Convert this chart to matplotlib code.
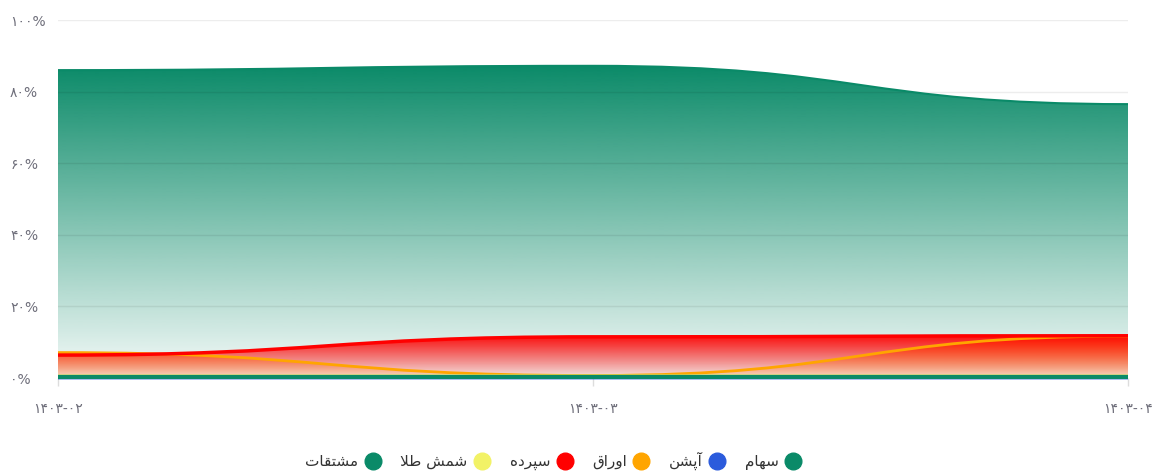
import numpy as np
import matplotlib
matplotlib.use("Agg")
import matplotlib.pyplot as plt
from matplotlib.path import Path
from matplotlib.patches import PathPatch
from matplotlib.lines import Line2D
from matplotlib.colors import to_rgb

plt.rcParams['font.family'] = ['DejaVu Sans']

# ---- data ----
periods = ['۱۴۰۳-۰۲', '۱۴۰۳-۰۳', '۱۴۰۳-۰۴']
saham = [86.0, 87.2, 76.5]      # سهام
option = [0.0, 0.0, 0.0]        # آپشن
oragh = [7.1, 0.7, 11.7]        # اوراق
sepordeh = [6.4, 11.5, 11.8]    # سپرده
gold = [0.6, 0.6, 0.6]          # شمش طلا
moshtaghat = [0.3, 0.3, 0.3]    # مشتقات

names = ['سهام', 'آپشن', 'اوراق', 'سپرده', 'شمش طلا', 'مشتقات']
colors = ['#0a8a68', '#2b5bdc', '#ffa500', '#ff0000', '#f2f266', '#0a8a68']
ytick_vals = [0, 20, 40, 60, 80, 100]

# ---- simple arabic shaping (matplotlib has no RTL/joining support) ----
FORMS = {
    'ا': ('\uFE8D', '\uFE8E'), 'آ': ('\uFE81', '\uFE82'),
    'د': ('\uFEA9', '\uFEAA'), 'ر': ('\uFEAD', '\uFEAE'),
    'و': ('\uFEED', '\uFEEE'),
    'س': ('\uFEB1', '\uFEB2', '\uFEB3', '\uFEB4'),
    'ش': ('\uFEB5', '\uFEB6', '\uFEB7', '\uFEB8'),
    'ه': ('\uFEE9', '\uFEEA', '\uFEEB', '\uFEEC'),
    'م': ('\uFEE1', '\uFEE2', '\uFEE3', '\uFEE4'),
    'ن': ('\uFEE5', '\uFEE6', '\uFEE7', '\uFEE8'),
    'پ': ('\uFB56', '\uFB57', '\uFB58', '\uFB59'),
    'ق': ('\uFED5', '\uFED6', '\uFED7', '\uFED8'),
    'ط': ('\uFEC1', '\uFEC2', '\uFEC3', '\uFEC4'),
    'ل': ('\uFEDD', '\uFEDE', '\uFEDF', '\uFEE0'),
    'ت': ('\uFE95', '\uFE96', '\uFE97', '\uFE98'),
}


def shape(text):
    out = []
    i = 0
    chars = list(text)
    while i < len(chars):
        c = chars[i]
        if c not in FORMS:
            out.append(c)
            i += 1
            continue
        prev = chars[i - 1] if i > 0 else None
        join_prev = prev in FORMS and len(FORMS[prev]) == 4
        if c == 'ل' and i + 1 < len(chars) and chars[i + 1] in ('ا', 'آ'):
            if chars[i + 1] == 'ا':
                out.append('\uFEFC' if join_prev else '\uFEFB')
            else:
                out.append('\uFEF6' if join_prev else '\uFEF5')
            i += 2
            continue
        nxt = chars[i + 1] if i + 1 < len(chars) else None
        f = FORMS[c]
        join_next = len(f) == 4 and nxt in FORMS
        if join_prev and join_next:
            out.append(f[3])
        elif join_prev:
            out.append(f[1])
        elif join_next:
            out.append(f[2])
        else:
            out.append(f[0])
        i += 1
    return ''.join(out)[::-1]


def curve_verts(x, y):
    verts = [(x[0], y[0])]
    codes = [Path.MOVETO]
    for k in range(1, len(x)):
        L = (x[k] - x[k - 1]) * 0.5
        verts += [(x[k - 1] + L, y[k - 1]), (x[k] - L, y[k]), (x[k], y[k])]
        codes += [Path.CURVE4] * 3
    return verts, codes


def area_fill(ax, x, y, color, a_top, a_bot, z):
    verts, codes = curve_verts(x, y)
    fverts = verts + [(x[-1], 0), (x[0], 0), (x[0], y[0])]
    fcodes = codes + [Path.LINETO, Path.LINETO, Path.CLOSEPOLY]
    clip = PathPatch(Path(fverts, fcodes), facecolor='none', edgecolor='none')
    ax.add_patch(clip)
    top = max(y) if max(y) > 0 else 1
    n = 256
    img = np.zeros((n, 1, 4))
    img[:, 0, :3] = to_rgb(color)
    img[:, 0, 3] = np.linspace(a_bot, a_top, n)
    im = ax.imshow(img, extent=[x[0], x[-1], 0, top], origin='lower',
                   aspect='auto', zorder=z, interpolation='bilinear')
    im.set_clip_path(clip)


def area_line(ax, x, y, color, lw, z):
    verts, codes = curve_verts(x, y)
    line = PathPatch(Path(verts, codes), facecolor='none', edgecolor=color,
                     lw=lw, zorder=z, capstyle='butt')
    line.set_clip_on(False)
    ax.add_patch(line)


fig = plt.figure(figsize=(11.68, 4.72), dpi=100)
ax = fig.add_axes([58 / 1168, 1 - 378 / 472, 1070 / 1168, 358 / 472])

xs = np.arange(len(periods))
area_fill(ax, xs, saham, colors[0], 1.0, 0.04, 2)
area_fill(ax, xs, oragh, colors[2], 0.75, 0.1, 3)
area_fill(ax, xs, sepordeh, colors[3], 0.95, 0.08, 4)
area_fill(ax, xs, gold, colors[4], 0.6, 0.2, 5)

ax.set_xlim(0, 2)
ax.set_ylim(0, 100)
for v in ytick_vals[1:]:
    ax.axhline(v, color=(0, 0, 0, 0.07), lw=1, zorder=6)

area_line(ax, xs, saham, colors[0], 1.5, 8)
area_line(ax, xs, oragh, colors[2], 2, 9)
area_line(ax, xs, sepordeh, colors[3], 2.5, 10)
area_line(ax, xs, gold, colors[4], 2, 11)
area_line(ax, xs, option, colors[1], 2, 11.5)
area_line(ax, xs, moshtaghat, colors[5], 3, 12)

ax.set_yticks(ytick_vals)
fa_digits = str.maketrans('0123456789', '۰۱۲۳۴۵۶۷۸۹')
ax.set_yticklabels([str(v).translate(fa_digits) + '%' for v in ytick_vals])
for lab in ax.get_yticklabels():
    lab.set_horizontalalignment('left')
ax.set_xticks(xs)
ax.set_xticklabels(periods)
ax.tick_params(axis='y', length=0, pad=34.5, labelsize=10, labelcolor='#6e6e7a')
ax.tick_params(axis='x', length=6, width=1, color='#dddddd', pad=11,
               labelsize=10, labelcolor='#6e6e7a')
for s in ['top', 'right', 'left', 'bottom']:
    ax.spines[s].set_visible(False)

handles = [Line2D([], [], ls='none', marker='o', markersize=12,
                  markerfacecolor=c, markeredgecolor=c) for c in colors]
labels = [shape(n) for n in names]
fig.legend(handles[::-1], labels[::-1], loc='center',
           bbox_to_anchor=(553 / 1168, 1 - 461 / 472), ncol=6, frameon=False,
           markerfirst=False, fontsize=11, handlelength=1.0,
           handletextpad=0.45, columnspacing=1.3, labelcolor='#333333')

fig.savefig('out.png', dpi=100)
